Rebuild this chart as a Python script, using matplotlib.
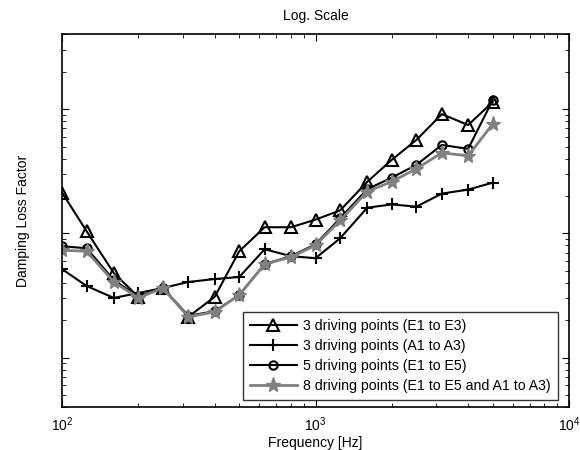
import matplotlib
matplotlib.use("Agg")
import matplotlib.pyplot as plt

plt.rcParams['font.family'] = ['Liberation Sans', 'DejaVu Sans']

# third-octave band centre frequencies [Hz]
freq = [100, 125, 160, 200, 250, 315, 400, 500, 630, 800,
        1000, 1250, 1600, 2000, 2500, 3150, 4000, 5000]

# loss factors (y tick labels are not shown in the original)
eta_e1_e3 = [0.0213, 0.0104, 0.00479, 0.00308, 0.00363, 0.00213, 0.00308, 0.00718, 0.0112,
             0.0112, 0.0129, 0.0153, 0.026, 0.0391, 0.0565, 0.0912, 0.0745, 0.114]
eta_a1_a3 = [0.00515, 0.00377, 0.00302, 0.00331, 0.00363, 0.00406, 0.00429, 0.00445, 0.00745,
             0.00655, 0.00631, 0.00912, 0.0161, 0.0171, 0.0164, 0.0209, 0.0225, 0.0256]
eta_e1_e5 = [0.00787, 0.00759, 0.00421, 0.00308, 0.00363, 0.00217, 0.00236, 0.00319, 0.00565,
             0.00655, 0.00817, 0.0132, 0.0227, 0.0281, 0.0356, 0.0515, 0.0479, 0.118]
eta_all8 = [0.00731, 0.00718, 0.00406, 0.00302, 0.00363, 0.00213, 0.00233, 0.00319, 0.00565,
            0.00643, 0.00802, 0.0127, 0.0217, 0.0261, 0.0331, 0.0445, 0.0421, 0.0759]

fig = plt.figure(figsize=(5.8, 4.5), dpi=100)
ax = fig.add_axes([0.107, 0.0956, 0.874, 0.828])

ax.loglog(freq, eta_e1_e3, color='black', lw=1.5, marker='^', ms=8, mfc='none',
          mew=1.5, label='3 driving points (E1 to E3)')
ax.loglog(freq, eta_a1_a3, color='black', lw=1.5, marker='+', ms=9,
          mew=1.5, label='3 driving points (A1 to A3)')
ax.loglog(freq, eta_e1_e5, color='black', lw=1.5, marker='o', ms=6, mfc='none',
          mew=1.5, label='5 driving points (E1 to E5)')
ax.loglog(freq, eta_all8, color='#808080', lw=2, marker='*', ms=11,
          mew=1, label='8 driving points (E1 to E5 and A1 to A3)')

ax.set_xlim(100, 10000)
ax.set_ylim(4e-4, 4e-1)

ax.tick_params(which='both', direction='in', top=True, right=True, labelsize=10)
ax.tick_params(which='major', length=5, pad=6)
ax.tick_params(which='minor', length=3)
ax.tick_params(axis='y', which='both', labelleft=False)
for s in ax.spines.values():
    s.set_linewidth(1.2)

ax.set_title('Log. Scale', fontsize=10, pad=10)
ax.set_xlabel('Frequency [Hz]', fontsize=10, va='top')
ax.xaxis.set_label_coords(0.5, -0.079)
ax.set_ylabel('Damping Loss Factor', fontsize=10, labelpad=23)

leg = ax.legend(loc='lower right', bbox_to_anchor=(0.978, 0.019), borderaxespad=0,
                fontsize=10.2, frameon=True, fancybox=False, edgecolor='black',
                handlelength=3.3, handletextpad=0.45, borderpad=0.5, labelspacing=0.42)
leg.get_frame().set_linewidth(1)

fig.savefig('out.png', dpi=100)
